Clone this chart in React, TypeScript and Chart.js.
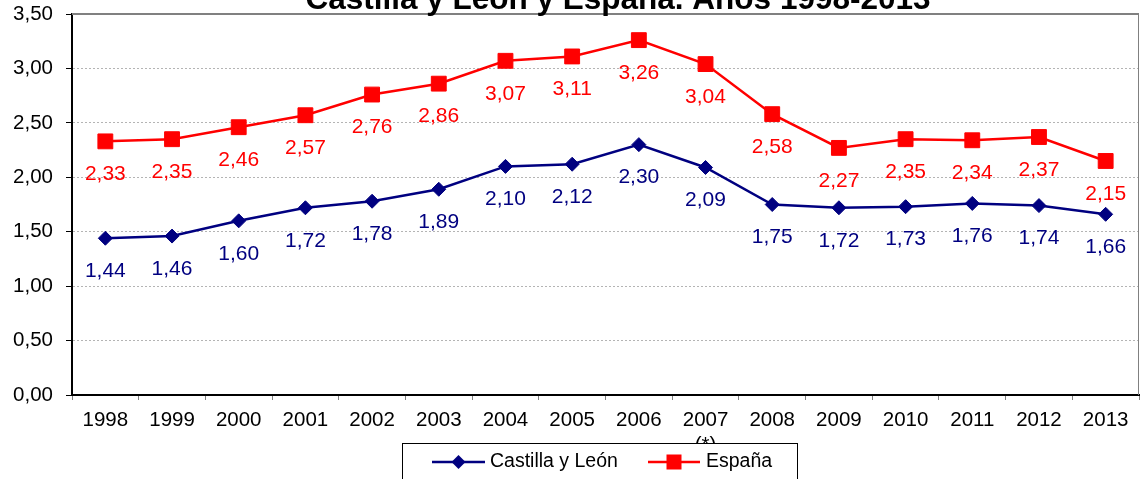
import React, { useEffect, useRef } from "react";
import { Chart, registerables } from "chart.js";

Chart.register(...registerables);

const TITLE = "Castilla y León y España. Años 1998-2013";
const years = ["1998", "1999", "2000", "2001", "2002", "2003", "2004", "2005", "2006", "2007", "2008", "2009", "2010", "2011", "2012", "2013"];
const yearNotes: Record<string, string> = { "2007": "(*)" };
const castillaLeon = [1.44, 1.46, 1.60, 1.72, 1.78, 1.89, 2.10, 2.12, 2.30, 2.09, 1.75, 1.72, 1.73, 1.76, 1.74, 1.66];
const espana = [2.33, 2.35, 2.46, 2.57, 2.76, 2.86, 3.07, 3.11, 3.26, 3.04, 2.58, 2.27, 2.35, 2.34, 2.37, 2.15];
const seriesNames = ["Castilla y León", "España"];
const seriesColors = ["#000080", "#ff0000"];
const yMin = 0;
const yMax = 3.5;
const yStep = 0.5;

const FONT = "'Liberation Sans', Arial, sans-serif";
const fmt = (v: number) => v.toFixed(2).replace(".", ",");

const xLabels: (string | string[])[] = years.map((y) => (yearNotes[y] ? [y, yearNotes[y]] : y));

const overlayPlugin = {
  id: "overlay",
  beforeDatasetsDraw(chart: any) {
    const { ctx, chartArea: a } = chart;
    ctx.save();
    ctx.strokeStyle = "#808080";
    ctx.lineWidth = 2;
    ctx.beginPath();
    ctx.moveTo(a.left, a.top);
    ctx.lineTo(a.right, a.top);
    ctx.stroke();
    ctx.lineWidth = 1;
    ctx.beginPath();
    ctx.moveTo(a.right - 0.5, a.top);
    ctx.lineTo(a.right - 0.5, a.bottom);
    ctx.stroke();
    ctx.restore();
  },
  afterDatasetsDraw(chart: any) {
    const { ctx } = chart;
    ctx.save();
    ctx.font = `21px ${FONT}`;
    ctx.textAlign = "center";
    ctx.textBaseline = "middle";
    chart.data.datasets.forEach((ds: any, i: number) => {
      const meta = chart.getDatasetMeta(i);
      ctx.fillStyle = ds.borderColor;
      meta.data.forEach((pt: any, j: number) => {
        ctx.fillText(fmt(ds.data[j]), pt.x, pt.y + 33);
      });
    });
    ctx.restore();
  },
  afterDraw(chart: any) {
    const { ctx } = chart;
    ctx.save();
    // Title (cut off at the top in the reference)
    ctx.font = `bold 31.5px ${FONT}`;
    ctx.fillStyle = "#000";
    ctx.textAlign = "center";
    ctx.textBaseline = "alphabetic";
    ctx.fillText(TITLE, 618, 9);

    // Legend box
    const bx = 402.5, by = 443.5, bw = 395, bh = 60;
    ctx.fillStyle = "#fff";
    ctx.fillRect(bx, by, bw, bh);
    ctx.strokeStyle = "#000";
    ctx.lineWidth = 1;
    ctx.strokeRect(bx, by, bw, bh);

    const ly = 462;
    ctx.font = `19.5px ${FONT}`;
    ctx.textAlign = "left";
    ctx.textBaseline = "middle";
    // Castilla y León
    ctx.strokeStyle = seriesColors[0];
    ctx.lineWidth = 2.5;
    ctx.beginPath();
    ctx.moveTo(432, ly);
    ctx.lineTo(485, ly);
    ctx.stroke();
    ctx.fillStyle = seriesColors[0];
    ctx.beginPath();
    ctx.moveTo(458.5, ly - 7);
    ctx.lineTo(465.5, ly);
    ctx.lineTo(458.5, ly + 7);
    ctx.lineTo(451.5, ly);
    ctx.closePath();
    ctx.fill();
    ctx.fillStyle = "#000";
    ctx.fillText(seriesNames[0], 490, ly);
    // España
    ctx.strokeStyle = seriesColors[1];
    ctx.beginPath();
    ctx.moveTo(648, ly);
    ctx.lineTo(700, ly);
    ctx.stroke();
    ctx.fillStyle = seriesColors[1];
    ctx.fillRect(674 - 7.5, ly - 7.5, 15, 15);
    ctx.fillStyle = "#000";
    ctx.fillText(seriesNames[1], 706, ly);
    ctx.restore();
  },
};

export default function App() {
  const ref = useRef<HTMLCanvasElement | null>(null);

  useEffect(() => {
    if (!ref.current) return;
    const chart = new Chart(ref.current, {
      type: "line",
      data: {
        labels: xLabels,
        datasets: [
          {
            label: seriesNames[0],
            data: castillaLeon,
            borderColor: seriesColors[0],
            backgroundColor: seriesColors[0],
            borderWidth: 2.5,
            pointStyle: "rectRot",
            pointRadius: 7,
            pointBorderWidth: 1,
            tension: 0,
          },
          {
            label: seriesNames[1],
            data: espana,
            borderColor: seriesColors[1],
            backgroundColor: seriesColors[1],
            borderWidth: 2.5,
            pointStyle: "rect",
            pointRadius: 10.5,
            pointBorderWidth: 1,
            tension: 0,
          },
        ],
      },
      options: {
        responsive: false,
        animation: false,
        layout: { autoPadding: false, padding: { top: 14, right: 1, left: 0, bottom: 0 } },
        plugins: {
          legend: { display: false },
          title: { display: false },
          tooltip: { enabled: false },
        },
        scales: {
          x: {
            offset: true,
            grid: {
              offset: true,
              drawOnChartArea: false,
              tickLength: 5,
              color: "#808080",
              tickColor: "#808080",
            },
            border: { color: "#000", width: 2 },
            ticks: {
              color: "#000",
              font: { family: FONT, size: 20.5 },
              padding: 8,
              maxRotation: 0,
              autoSkip: false,
            },
            afterFit: (s: any) => {
              s.height = 84;
              s.paddingLeft = 0;
              s.paddingRight = 0;
            },
          },
          y: {
            min: yMin,
            max: yMax,
            ticks: {
              stepSize: yStep,
              callback: (v: any) => fmt(Number(v)),
              padding: 13,
              color: "#000",
              font: { family: FONT, size: 20.5 },
            },
            grid: {
              color: "#b4b4b4",
              tickColor: "#000",
              tickLength: 6,
              tickBorderDash: [],
            },
            border: { color: "#000", width: 2, dash: [2, 2] },
            afterFit: (s: any) => {
              s.width = 72;
              s.paddingTop = 0;
              s.paddingBottom = 0;
            },
          },
        },
      },
      plugins: [overlayPlugin],
    } as any);
    return () => chart.destroy();
  }, []);

  return (
    <canvas
      ref={ref}
      width={1140}
      height={479}
      style={{ position: "fixed", left: 0, top: 0, display: "block" }}
    />
  );
}
